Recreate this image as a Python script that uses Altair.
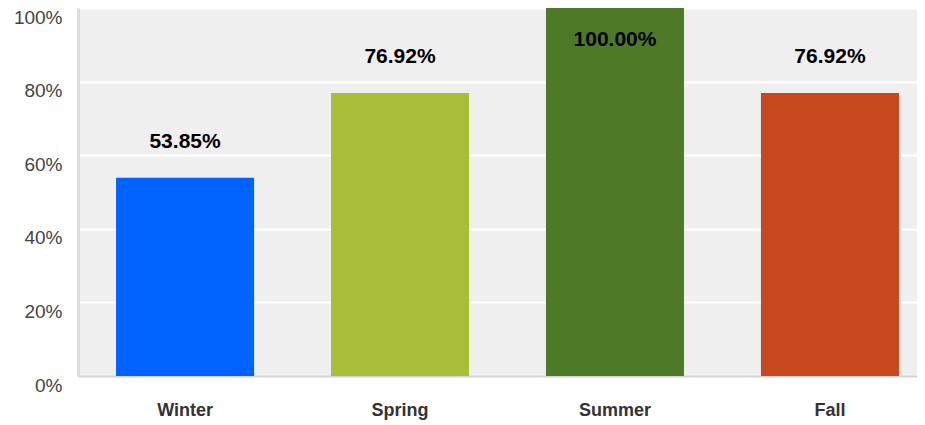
import altair as alt
import pandas as pd

seasons = ["Winter", "Spring", "Summer", "Fall"]
shares = [0.5385, 0.7692, 1.0, 0.7692]
colors = ["#0063ff", "#a9bd39", "#4e7a28", "#c8471d"]
tick_values = [0.0, 0.1, 0.2, 0.3, 0.4, 0.5, 0.6, 0.7, 0.8, 0.9, 1.0]

df = pd.DataFrame({"season": seasons, "share": shares, "color": colors})

FONT = "Liberation Sans"

x = alt.X(
    "season:N",
    sort=seasons,
    title=None,
    scale=alt.Scale(range=[0, 859], paddingInner=0.358, paddingOuter=0.177),
    axis=alt.Axis(
        labelAngle=0, labelFont=FONT, labelFontSize=18, labelFontWeight="bold",
        labelColor="#333333", labelPadding=25, ticks=False, tickSize=0,
        domainColor="#d4d4d4", domainWidth=2,
    ),
)
y = alt.Y(
    "share:Q",
    title=None,
    scale=alt.Scale(domain=[0, 1], nice=False),
    axis=alt.Axis(
        values=tick_values,
        labelExpr="round(datum.value*10) % 2 == 0 ? format(datum.value, '.0%') : ''",
        labelFont=FONT, labelFontSize=19, labelColor="#444444",
        labelPadding=16, labelOffset=9, ticks=False, tickSize=0,
        grid=True, gridColor="#ffffff", gridWidth=2, gridOpacity=1,
        domainColor="#dcdcdc", domainWidth=3,
    ),
)

bars = alt.Chart(df).mark_bar().encode(
    x=x, y=y, color=alt.Color("color:N", scale=None)
)

labels = alt.Chart(df).transform_calculate(
    label_y="datum.share > 0.95 ? datum.share - 0.087 : datum.share + 0.098"
).mark_text(
    font=FONT, fontSize=21, fontWeight="bold", color="#000000", baseline="middle"
).encode(
    x=alt.X("season:N", sort=seasons),
    y=alt.Y("label_y:Q"),
    text=alt.Text("share:Q", format=".2%"),
)

chart = alt.layer(bars, labels).properties(
    width=839, height=368,
    autosize="none",
    padding={"left": 70, "top": 0, "right": 0, "bottom": 44},
).configure_view(fill="#efefef", strokeWidth=0)

chart.save("out.html", embed_options={"renderer": "svg", "actions": False})
